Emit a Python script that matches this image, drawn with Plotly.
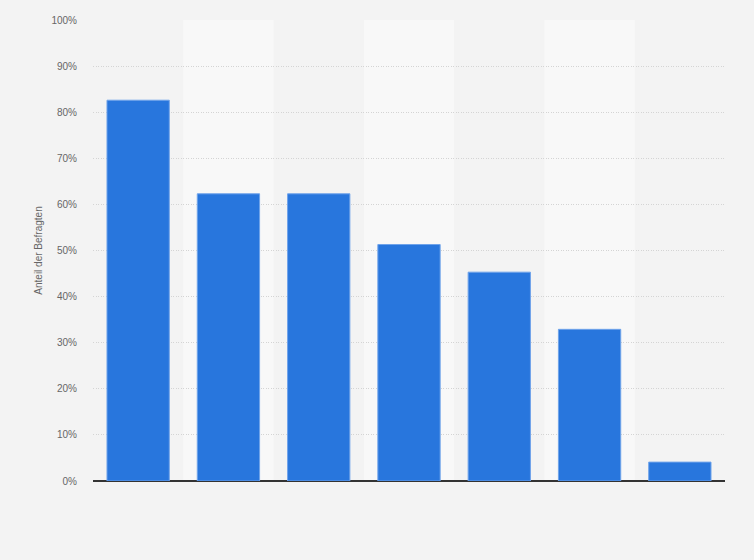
import plotly.graph_objects as go

# Daten
categories = ["A", "B", "C", "D", "E", "F", "G"]
values = [82.6, 62.3, 62.3, 51.3, 45.3, 32.9, 4.1]
y_ticks = [0, 10, 20, 30, 40, 50, 60, 70, 80, 90, 100]
y_tick_labels = [f"{v}%" for v in y_ticks]

BAR_COLOR = "#2876dd"
PAGE_BG = "#f3f3f3"
BAND_BG = "#f8f8f8"

fig = go.Figure()
fig.add_trace(
    go.Bar(
        x=categories,
        y=values,
        marker=dict(color=BAR_COLOR, line=dict(color="#6fa3ea", width=1)),
        width=0.69,
        hoverinfo="x+y",
    )
)

# helle Spalten-Hintergruende bei jeder zweiten Kategorie
shapes = []
for i, _ in enumerate(categories):
    if i % 2 == 1:
        shapes.append(
            dict(
                type="rect", xref="x", yref="paper",
                x0=i - 0.5, x1=i + 0.5, y0=0, y1=1,
                fillcolor=BAND_BG, line=dict(width=0), layer="below",
            )
        )

fig.update_layout(
    width=754,
    height=560,
    paper_bgcolor=PAGE_BG,
    plot_bgcolor=PAGE_BG,
    margin=dict(l=93, r=29, t=20, b=79),
    font=dict(family="Liberation Sans, Arial, sans-serif", size=10, color="#666666"),
    showlegend=False,
    bargap=0.31,
    shapes=shapes,
)
fig.update_xaxes(
    showticklabels=False,
    showgrid=False,
    range=[-0.5, len(categories) - 0.5],
)
fig.update_yaxes(
    range=[0, 100],
    tickvals=y_ticks,
    ticktext=y_tick_labels,
    showgrid=True,
    gridcolor="#d4d4d4",
    griddash="1px,1.5px",
    gridwidth=1,
    zeroline=True,
    zerolinecolor="#333333",
    zerolinewidth=1.5,
    ticks="",
    ticklabelstandoff=15,
    title=dict(text="Anteil der Befragten", font=dict(size=10, color="#666666"), standoff=6),
)

# Seitenrand des Browsers entfernen, damit die Grafik bei 0,0 beginnt
fig.write_html(
    "out.html",
    config={"displayModeBar": False},
    post_script="document.body.style.margin='0';",
)
